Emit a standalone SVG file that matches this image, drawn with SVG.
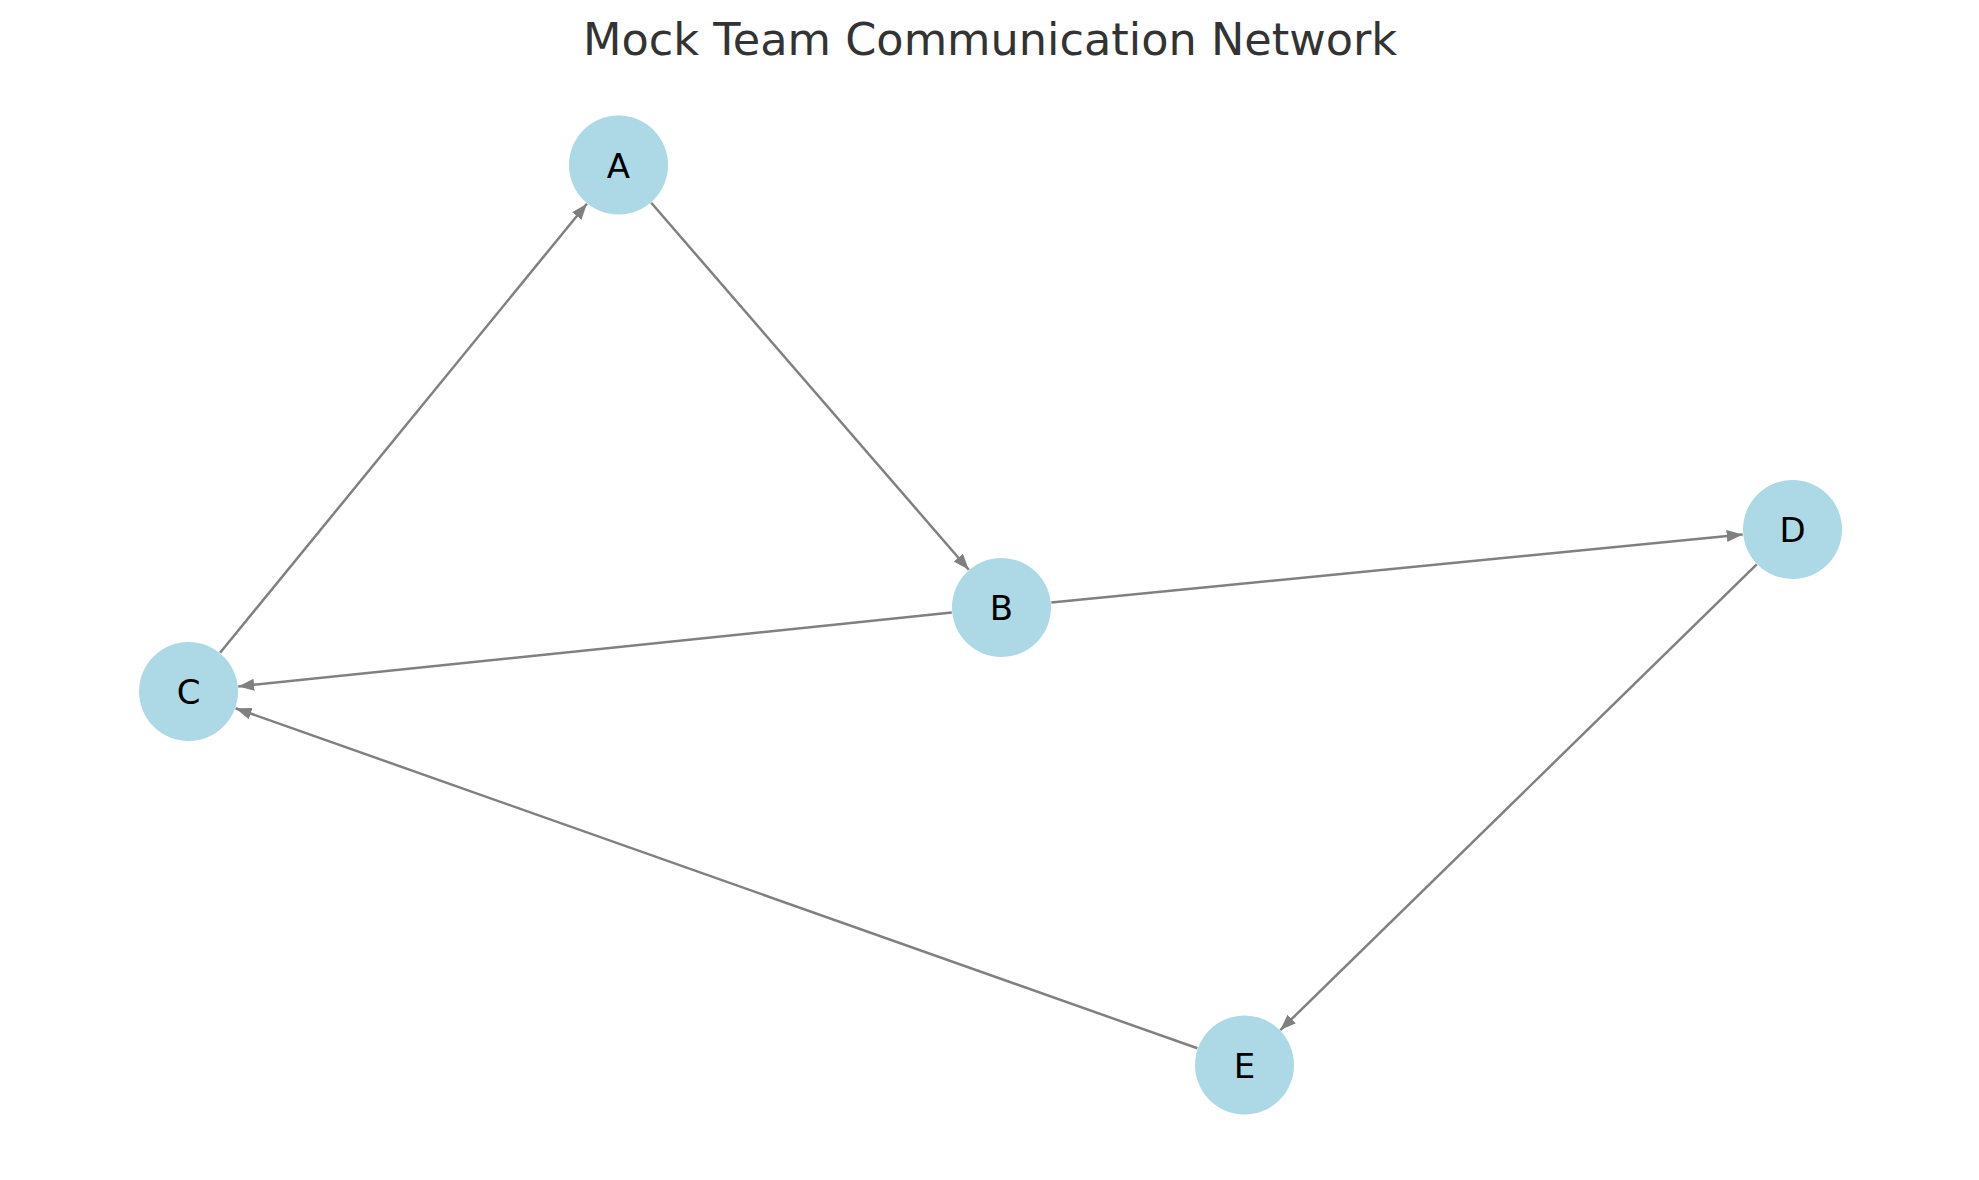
<svg xmlns="http://www.w3.org/2000/svg" width="1979" height="1180" viewBox="0 0 1979 1180">
<style>
.node circle{fill:#ADD8E6;}
.node text{font-family:"DejaVu Sans",sans-serif;font-size:34px;fill:#000;text-anchor:middle;}
.edge{stroke:#808080;stroke-width:2.5;fill:none;marker-end:url(#arr);}
.title{font-family:"DejaVu Sans",sans-serif;font-size:44.6px;fill:#333333;text-anchor:middle;}
</style>
<defs>
<marker id="arr" markerUnits="userSpaceOnUse" markerWidth="18" markerHeight="14" refX="16" refY="6" orient="auto">
<path d="M0,0 L16,6 L0,12 z" fill="#808080"/>
</marker>
</defs>
<rect width="1979" height="1180" fill="#fff"/>
<text class="title" x="990" y="55">Mock Team Communication Network</text>
<g id="edges">
<line class="edge" x1="220.1" y1="652.8" x2="586.9" y2="203.7"/>
<line class="edge" x1="651.2" y1="202.8" x2="968.8" y2="569.7"/>
<line class="edge" x1="1051.3" y1="602.6" x2="1742.7" y2="534.4"/>
<line class="edge" x1="951.8" y1="612.6" x2="238.2" y2="686.4"/>
<line class="edge" x1="1756.7" y1="564.4" x2="1280.3" y2="1030.1"/>
<line class="edge" x1="1197.4" y1="1048.3" x2="235.6" y2="708.2"/>
</g>
<g id="node-A" class="node"><circle cx="618.5" cy="165" r="49.5"/><text x="618.5" y="177.5">A</text></g>
<g id="node-B" class="node"><circle cx="1001.5" cy="607.5" r="49.5"/><text x="1001.5" y="620">B</text></g>
<g id="node-C" class="node"><circle cx="188.5" cy="691.5" r="49.5"/><text x="188.5" y="704">C</text></g>
<g id="node-D" class="node"><circle cx="1792.5" cy="529.5" r="49.5"/><text x="1792.5" y="542">D</text></g>
<g id="node-E" class="node"><circle cx="1244.5" cy="1065" r="49.5"/><text x="1244.5" y="1077.5">E</text></g>
</svg>
